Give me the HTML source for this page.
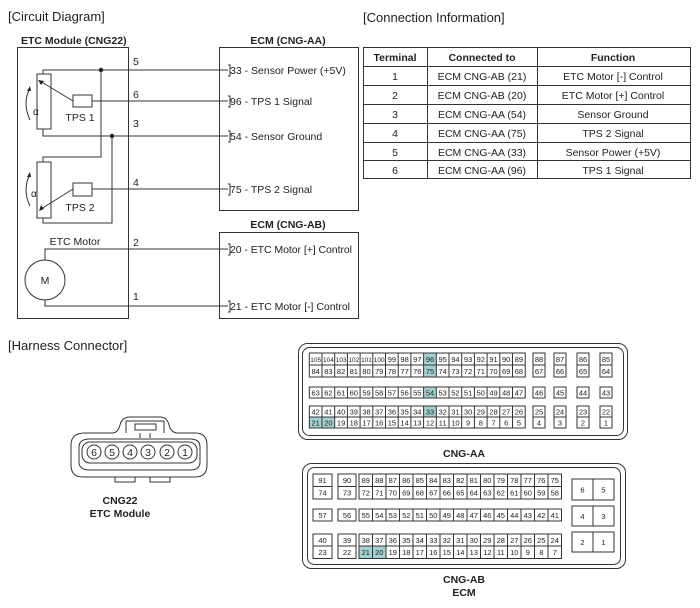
<!DOCTYPE html>
<html><head><meta charset="utf-8"><style>
body{margin:0;background:#fff}
svg{display:block;font-family:"Liberation Sans",sans-serif}
text{fill:#222}
.g{fill:none;stroke:#333;stroke-width:1}
.c{font-size:7.5px;text-anchor:middle}
.s{font-size:6.5px;text-anchor:middle}
.t{font-size:10.5px;text-anchor:middle}
.l{font-size:10.5px}
.b{font-size:10.5px;font-weight:bold}
.h{fill:#a3d1d1}
</style></head><body>
<svg width="700" height="608" viewBox="0 0 700 608">
<text x="8" y="21" style="font-size:13px">[Circuit Diagram]</text>
<text x="363" y="22" style="font-size:13px">[Connection Information]</text>
<text x="8" y="350" style="font-size:13px">[Harness Connector]</text>

<!-- circuit -->
<text x="21" y="44" class="b">ETC Module (CNG22)</text>
<text x="288" y="44" class="b" text-anchor="middle">ECM (CNG-AA)</text>
<text x="288" y="228" class="b" text-anchor="middle">ECM (CNG-AB)</text>
<rect x="17.5" y="47.5" width="111" height="271" class="g"/>
<rect x="219.5" y="47.5" width="139" height="163" class="g"/>
<rect x="219.5" y="232.5" width="139" height="86" class="g"/>
<g class="g">
<path d="M43 74V70H228 M92 101H228 M43 129V136H228 M92 189H228 M45 260V249H228 M45 300V306H228"/>
<path d="M101 70V157H43V162 M112 136V223H43V218"/>
<rect x="37" y="74" width="14" height="55"/>
<rect x="37" y="162" width="14" height="56"/>
<rect x="73" y="95" width="19" height="12"/>
<rect x="73" y="183" width="19" height="13"/>
<path d="M73 101L40 81 M73 189L41 209"/>
<path d="M30 120Q22 103 30 88 M30 206Q22 190 30 174"/>
<circle cx="45" cy="280" r="20"/>
<path d="M228 65H230V76H228 M228 96H230V107H228 M228 131H230V142H228 M228 184H230V195H228 M228 244H230V255H228 M228 301H230V312H228"/>
</g>
<path d="M38 80l6 1l-3 4z M39 211l2-6l3 4z M30 86l-3 5l4 0z M30 172l-3 5l4 0z" fill="#222"/>
<circle cx="101" cy="70" r="2.2" fill="#222"/><circle cx="112" cy="136" r="2.2" fill="#222"/>
<text x="33" y="115" style="font-size:10px">α</text><text x="31" y="197" style="font-size:10px">α</text>
<text x="80" y="121" class="l" text-anchor="middle">TPS 1</text>
<text x="80" y="211" class="l" text-anchor="middle">TPS 2</text>
<text x="75" y="245" class="l" text-anchor="middle">ETC Motor</text>
<text x="45" y="284" class="l" text-anchor="middle">M</text>
<g class="l"><text x="133" y="65">5</text><text x="133" y="98">6</text><text x="133" y="127">3</text><text x="133" y="186">4</text><text x="133" y="246">2</text><text x="133" y="300">1</text>
<text x="230" y="74">33 - Sensor Power (+5V)</text>
<text x="230" y="105">96 - TPS 1 Signal</text>
<text x="230" y="140">54 - Sensor Ground</text>
<text x="230" y="193">75 - TPS 2 Signal</text>
<text x="230" y="253" textLength="122">20 - ETC Motor [+] Control</text>
<text x="230" y="310" textLength="120">21 - ETC Motor [-] Control</text></g>

<!-- table -->
<g class="g"><rect x="363.5" y="47.5" width="327" height="131"/>
<path d="M427.5 47.5V178.5 M537.5 47.5V178.5 M363.5 66.5H690.5 M363.5 85.5H690.5 M363.5 104.5H690.5 M363.5 123.5H690.5 M363.5 142.5H690.5 M363.5 160.5H690.5"/></g>
<g class="t"><text x="395" y="61" font-weight="bold">Terminal</text><text x="482" y="61" font-weight="bold">Connected to</text><text x="613" y="61" font-weight="bold">Function</text>
<text x="395" y="80">1</text><text x="482" y="80">ECM CNG-AB (21)</text><text x="613" y="80">ETC Motor [-] Control</text>
<text x="395" y="99">2</text><text x="482" y="99">ECM CNG-AB (20)</text><text x="613" y="99">ETC Motor [+] Control</text>
<text x="395" y="118">3</text><text x="482" y="118">ECM CNG-AA (54)</text><text x="613" y="118">Sensor Ground</text>
<text x="395" y="137">4</text><text x="482" y="137">ECM CNG-AA (75)</text><text x="613" y="137">TPS 2 Signal</text>
<text x="395" y="156">5</text><text x="482" y="156">ECM CNG-AA (33)</text><text x="613" y="156">Sensor Power (+5V)</text>
<text x="395" y="174">6</text><text x="482" y="174">ECM CNG-AA (96)</text><text x="613" y="174">TPS 1 Signal</text></g>

<!-- harness CNG22 -->
<g class="g" stroke-width="1.2">
<path d="M71 445Q71 433 85 433H112Q118 433 120 425Q122 417 130 417H160Q167 417 169 425Q171 433 178 433H195Q207 433 207 445V465Q207 477 195 477H83Q71 477 71 465Z"/>
<path d="M79 447Q79 439 90 439H190Q200 439 200 447V462Q200 470 190 470H90Q79 470 79 462Z"/>
<rect x="82" y="442" width="115" height="21" rx="8"/>
<path d="M126 421H164V433 M126 421V433 M135 424H156V430H135Z M140 433V438 M150 433V438 M115 477V482H135V477 M150 477V482H170V477"/>
<circle cx="94" cy="452" r="7"/><circle cx="112" cy="452" r="7"/><circle cx="130" cy="452" r="7"/><circle cx="148" cy="452" r="7"/><circle cx="167" cy="452" r="7"/><circle cx="185" cy="452" r="7"/>
</g>
<g class="t"><text x="94" y="456">6</text><text x="112" y="456">5</text><text x="130" y="456">4</text><text x="148" y="456">3</text><text x="167" y="456">2</text><text x="185" y="456">1</text>
<text x="120" y="504" font-weight="bold">CNG22</text><text x="120" y="517" font-weight="bold">ETC Module</text>
<text x="464" y="457" font-weight="bold">CNG-AA</text><text x="464" y="583" font-weight="bold">CNG-AB</text><text x="464" y="596" font-weight="bold">ECM</text></g>

<!-- CNG-AA -->
<g class="g" stroke-width="0.8"><rect x="298.5" y="343.5" width="329" height="96" rx="9"/><rect x="302.5" y="347.5" width="321" height="88" rx="7"/></g>
<g class="h"><rect x="423.6" y="353" width="12.7" height="24"/><rect x="423.6" y="387" width="12.7" height="11"/><rect x="423.6" y="406" width="12.7" height="11"/><rect x="309.3" y="417" width="25.4" height="11"/></g>
<g class="g" stroke-width="0.7">
<rect x="309.3" y="353" width="215.9" height="24"/><rect x="309.3" y="387" width="215.9" height="11"/><rect x="309.3" y="406" width="215.9" height="22"/>
<path d="M309.3 365H525.2 M309.3 417H525.2 M322 353V377M334.7 353V377M347.4 353V377M360.1 353V377M372.8 353V377M385.5 353V377M398.2 353V377M410.9 353V377M423.6 353V377M436.3 353V377M449 353V377M461.7 353V377M474.4 353V377M487.1 353V377M499.8 353V377M512.5 353V377
M322 387V398M334.7 387V398M347.4 387V398M360.1 387V398M372.8 387V398M385.5 387V398M398.2 387V398M410.9 387V398M423.6 387V398M436.3 387V398M449 387V398M461.7 387V398M474.4 387V398M487.1 387V398M499.8 387V398M512.5 387V398
M322 406V428M334.7 406V428M347.4 406V428M360.1 406V428M372.8 406V428M385.5 406V428M398.2 406V428M410.9 406V428M423.6 406V428M436.3 406V428M449 406V428M461.7 406V428M474.4 406V428M487.1 406V428M499.8 406V428M512.5 406V428"/>
<rect x="533" y="353" width="12" height="24"/><rect x="554" y="353" width="12" height="24"/><rect x="577" y="353" width="12" height="24"/><rect x="600" y="353" width="12" height="24"/>
<rect x="533" y="387" width="12" height="11"/><rect x="554" y="387" width="12" height="11"/><rect x="577" y="387" width="12" height="11"/><rect x="600" y="387" width="12" height="11"/>
<rect x="533" y="406" width="12" height="22"/><rect x="554" y="406" width="12" height="22"/><rect x="577" y="406" width="12" height="22"/><rect x="600" y="406" width="12" height="22"/>
<path d="M533 365H545M554 365H566M577 365H589M600 365H612M533 417H545M554 417H566M577 417H589M600 417H612"/>
</g>
<g class="s"><text x="315.7" y="362">105</text><text x="328.4" y="362">104</text><text x="341.1" y="362">103</text><text x="353.8" y="362">102</text><text x="366.5" y="362">101</text><text x="379.2" y="362">100</text></g>
<g class="c"><text x="391.9" y="362">99</text><text x="404.6" y="362">98</text><text x="417.3" y="362">97</text><text x="430" y="362">96</text><text x="442.7" y="362">95</text><text x="455.4" y="362">94</text><text x="468.1" y="362">93</text><text x="480.8" y="362">92</text><text x="493.5" y="362">91</text><text x="506.2" y="362">90</text><text x="518.9" y="362">89</text>
<text x="315.7" y="374">84</text><text x="328.4" y="374">83</text><text x="341.1" y="374">82</text><text x="353.8" y="374">81</text><text x="366.5" y="374">80</text><text x="379.2" y="374">79</text><text x="391.9" y="374">78</text><text x="404.6" y="374">77</text><text x="417.3" y="374">76</text><text x="430" y="374">75</text><text x="442.7" y="374">74</text><text x="455.4" y="374">73</text><text x="468.1" y="374">72</text><text x="480.8" y="374">71</text><text x="493.5" y="374">70</text><text x="506.2" y="374">69</text><text x="518.9" y="374">68</text>
<text x="315.7" y="395.5">63</text><text x="328.4" y="395.5">62</text><text x="341.1" y="395.5">61</text><text x="353.8" y="395.5">60</text><text x="366.5" y="395.5">59</text><text x="379.2" y="395.5">58</text><text x="391.9" y="395.5">57</text><text x="404.6" y="395.5">56</text><text x="417.3" y="395.5">55</text><text x="430" y="395.5">54</text><text x="442.7" y="395.5">53</text><text x="455.4" y="395.5">52</text><text x="468.1" y="395.5">51</text><text x="480.8" y="395.5">50</text><text x="493.5" y="395.5">49</text><text x="506.2" y="395.5">48</text><text x="518.9" y="395.5">47</text>
<text x="315.7" y="414.5">42</text><text x="328.4" y="414.5">41</text><text x="341.1" y="414.5">40</text><text x="353.8" y="414.5">39</text><text x="366.5" y="414.5">38</text><text x="379.2" y="414.5">37</text><text x="391.9" y="414.5">36</text><text x="404.6" y="414.5">35</text><text x="417.3" y="414.5">34</text><text x="430" y="414.5">33</text><text x="442.7" y="414.5">32</text><text x="455.4" y="414.5">31</text><text x="468.1" y="414.5">30</text><text x="480.8" y="414.5">29</text><text x="493.5" y="414.5">28</text><text x="506.2" y="414.5">27</text><text x="518.9" y="414.5">26</text>
<text x="315.7" y="425.5">21</text><text x="328.4" y="425.5">20</text><text x="341.1" y="425.5">19</text><text x="353.8" y="425.5">18</text><text x="366.5" y="425.5">17</text><text x="379.2" y="425.5">16</text><text x="391.9" y="425.5">15</text><text x="404.6" y="425.5">14</text><text x="417.3" y="425.5">13</text><text x="430" y="425.5">12</text><text x="442.7" y="425.5">11</text><text x="455.4" y="425.5">10</text><text x="468.1" y="425.5">9</text><text x="480.8" y="425.5">8</text><text x="493.5" y="425.5">7</text><text x="506.2" y="425.5">6</text><text x="518.9" y="425.5">5</text>
<text x="539" y="362">88</text><text x="560" y="362">87</text><text x="583" y="362">86</text><text x="606" y="362">85</text>
<text x="539" y="374">67</text><text x="560" y="374">66</text><text x="583" y="374">65</text><text x="606" y="374">64</text>
<text x="539" y="395.5">46</text><text x="560" y="395.5">45</text><text x="583" y="395.5">44</text><text x="606" y="395.5">43</text>
<text x="539" y="414.5">25</text><text x="560" y="414.5">24</text><text x="583" y="414.5">23</text><text x="606" y="414.5">22</text>
<text x="539" y="425.5">4</text><text x="560" y="425.5">3</text><text x="583" y="425.5">2</text><text x="606" y="425.5">1</text></g>

<!-- CNG-AB -->
<g class="g" stroke-width="0.8"><rect x="302.5" y="463.5" width="323" height="105" rx="9"/><rect x="307.5" y="467.5" width="313" height="97" rx="7"/></g>
<rect x="359" y="546" width="27" height="12.5" class="h"/>
<g class="g" stroke-width="0.7">
<rect x="313" y="474" width="19" height="25"/><rect x="338" y="474" width="18" height="25"/><rect x="359" y="474" width="202.5" height="25"/>
<rect x="313" y="509" width="19" height="12"/><rect x="338" y="509" width="18" height="12"/><rect x="359" y="509" width="202.5" height="12"/>
<rect x="313" y="534" width="19" height="24.5"/><rect x="338" y="534" width="18" height="24.5"/><rect x="359" y="534" width="202.5" height="24.5"/>
<path d="M313 486.5H332M338 486.5H356M359 486.5H561.5M313 546H332M338 546H356M359 546H561.5
M372.5 474V499M386 474V499M399.5 474V499M413 474V499M426.5 474V499M440 474V499M453.5 474V499M467 474V499M480.5 474V499M494 474V499M507.5 474V499M521 474V499M534.5 474V499M548 474V499
M372.5 509V521M386 509V521M399.5 509V521M413 509V521M426.5 509V521M440 509V521M453.5 509V521M467 509V521M480.5 509V521M494 509V521M507.5 509V521M521 509V521M534.5 509V521M548 509V521
M372.5 534V558.5M386 534V558.5M399.5 534V558.5M413 534V558.5M426.5 534V558.5M440 534V558.5M453.5 534V558.5M467 534V558.5M480.5 534V558.5M494 534V558.5M507.5 534V558.5M521 534V558.5M534.5 534V558.5M548 534V558.5"/>
<rect x="572" y="479" width="42" height="21"/><rect x="572" y="506" width="42" height="20"/><rect x="572" y="532" width="42" height="20"/>
<path d="M593 479V500M593 506V526M593 532V552"/>
</g>
<g class="c"><text x="322.5" y="483">91</text><text x="347" y="483">90</text><text x="322.5" y="495.5">74</text><text x="347" y="495.5">73</text>
<text x="322.5" y="518">57</text><text x="347" y="518">56</text><text x="322.5" y="543">40</text><text x="347" y="543">39</text><text x="322.5" y="555">23</text><text x="347" y="555">22</text>
<text x="365.8" y="483">89</text><text x="379.3" y="483">88</text><text x="392.8" y="483">87</text><text x="406.3" y="483">86</text><text x="419.8" y="483">85</text><text x="433.3" y="483">84</text><text x="446.8" y="483">83</text><text x="460.3" y="483">82</text><text x="473.8" y="483">81</text><text x="487.3" y="483">80</text><text x="500.8" y="483">79</text><text x="514.3" y="483">78</text><text x="527.8" y="483">77</text><text x="541.3" y="483">76</text><text x="554.8" y="483">75</text>
<text x="365.8" y="495.5">72</text><text x="379.3" y="495.5">71</text><text x="392.8" y="495.5">70</text><text x="406.3" y="495.5">69</text><text x="419.8" y="495.5">68</text><text x="433.3" y="495.5">67</text><text x="446.8" y="495.5">66</text><text x="460.3" y="495.5">65</text><text x="473.8" y="495.5">64</text><text x="487.3" y="495.5">63</text><text x="500.8" y="495.5">62</text><text x="514.3" y="495.5">61</text><text x="527.8" y="495.5">60</text><text x="541.3" y="495.5">59</text><text x="554.8" y="495.5">58</text>
<text x="365.8" y="518">55</text><text x="379.3" y="518">54</text><text x="392.8" y="518">53</text><text x="406.3" y="518">52</text><text x="419.8" y="518">51</text><text x="433.3" y="518">50</text><text x="446.8" y="518">49</text><text x="460.3" y="518">48</text><text x="473.8" y="518">47</text><text x="487.3" y="518">46</text><text x="500.8" y="518">45</text><text x="514.3" y="518">44</text><text x="527.8" y="518">43</text><text x="541.3" y="518">42</text><text x="554.8" y="518">41</text>
<text x="365.8" y="543">38</text><text x="379.3" y="543">37</text><text x="392.8" y="543">36</text><text x="406.3" y="543">35</text><text x="419.8" y="543">34</text><text x="433.3" y="543">33</text><text x="446.8" y="543">32</text><text x="460.3" y="543">31</text><text x="473.8" y="543">30</text><text x="487.3" y="543">29</text><text x="500.8" y="543">28</text><text x="514.3" y="543">27</text><text x="527.8" y="543">26</text><text x="541.3" y="543">25</text><text x="554.8" y="543">24</text>
<text x="365.8" y="555">21</text><text x="379.3" y="555">20</text><text x="392.8" y="555">19</text><text x="406.3" y="555">18</text><text x="419.8" y="555">17</text><text x="433.3" y="555">16</text><text x="446.8" y="555">15</text><text x="460.3" y="555">14</text><text x="473.8" y="555">13</text><text x="487.3" y="555">12</text><text x="500.8" y="555">11</text><text x="514.3" y="555">10</text><text x="527.8" y="555">9</text><text x="541.3" y="555">8</text><text x="554.8" y="555">7</text>
<text x="582.5" y="492.5">6</text><text x="603.5" y="492.5">5</text><text x="582.5" y="519">4</text><text x="603.5" y="519">3</text><text x="582.5" y="545">2</text><text x="603.5" y="545">1</text></g>
</svg>
</body></html>
